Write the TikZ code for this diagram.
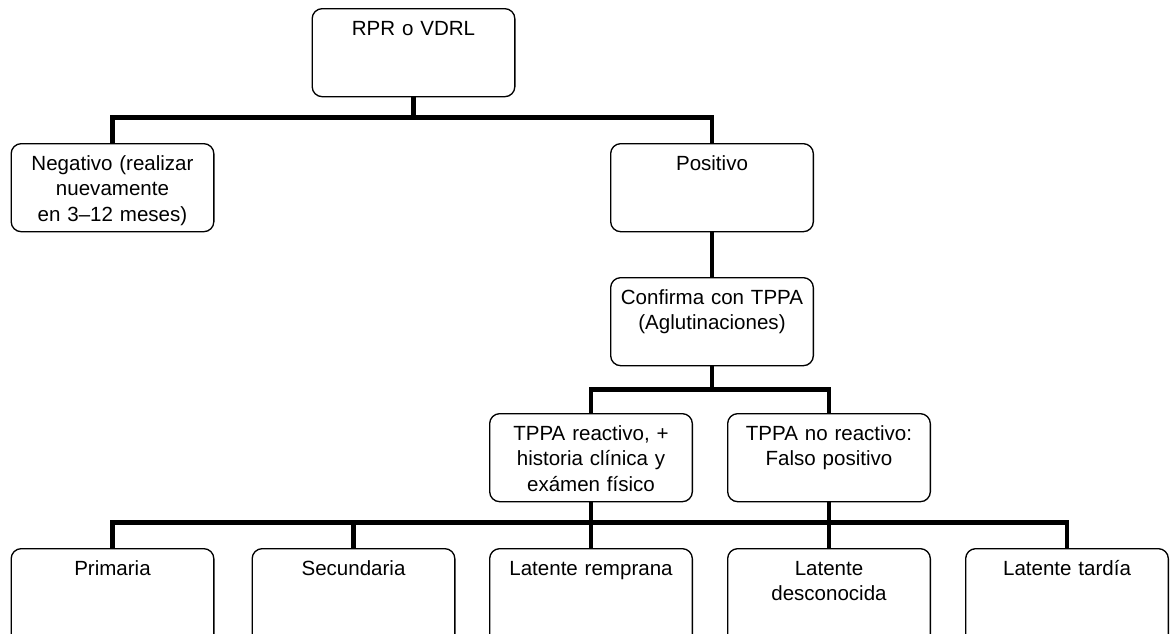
\documentclass[tikz,border=0pt]{standalone}
\usepackage{fontspec}
\setmainfont{Liberation Sans}

\tikzset{
  box/.style={draw, rounded corners=7.5pt, line width=1pt, anchor=north,
    inner sep=0pt, text width=152pt, align=center,
    text height=20pt, text depth=46pt,
    font=\fontsize{15.4}{19.2}\selectfont},
  lowbox/.style={box, text depth=52pt},
  link/.style={line width=3.3pt, line join=miter}
}

\begin{document}
\begin{tikzpicture}[x=0.75pt,y=-0.75pt]
\useasboundingbox (0,0) rectangle (1170,633);
\clip (0,0) rectangle (1170,633);

% first test
\node[box] (rpr) at (413.5,8) {RPR o VDRL};
\node[box] (neg) at (112.5,143) {Negativo (realizar\\nuevamente\\en 3–12 meses)};
\node[box] (pos) at (712,143) {Positivo};

% confirmation
\node[box] (conf) at (712,277) {Confirma con TPPA\\(Aglutinaciones)};
\node[box] (reac) at (591,413) {TPPA reactivo, +\\historia clínica y\\exámen físico};
\node[box] (noreac) at (829,413) {TPPA no reactivo:\\Falso positivo};

% stages
\node[lowbox] (prim) at (112.5,548) {Primaria};
\node[lowbox] (sec) at (353.5,548) {Secundaria};
\node[lowbox] (lrem) at (591,548) {Latente remprana};
\node[lowbox] (ldes) at (829,548) {Latente\\desconocida};
\node[lowbox] (ltar) at (1067,548) {Latente tardía};

\draw[link] (rpr.south) -- ++(0,20) coordinate (b1);
\draw[link] (neg.north) |- (b1) -| (pos.north);
\draw[link] (pos.south) -- (conf.north);
\draw[link] (conf.south) -- ++(0,23) coordinate (b2);
\draw[link] (reac.north) |- (b2) -| (noreac.north);
\draw[link] (reac.south) -- ++(0,20) coordinate (b3) -- (lrem.north);
\draw[link] (noreac.south) -- (ldes.north);
\draw[link] (prim.north) |- (b3) -| (ltar.north);
\draw[link] (sec.north) -- (sec.north |- b3);
\end{tikzpicture}
\end{document}
